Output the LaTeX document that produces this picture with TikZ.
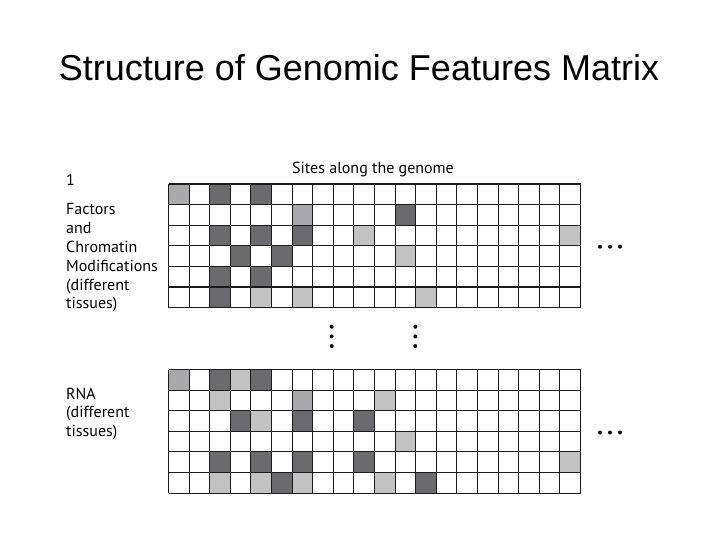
\documentclass[tikz,border=0pt]{standalone}
\usepackage{fontspec}
\setmainfont{Liberation Sans}
\newfontfamily\labelfont{PT Sans}
\usetikzlibrary{positioning}
\definecolor{CellDark}{HTML}{6B6B6E}
\definecolor{CellMid}{HTML}{A9A9AB}
\definecolor{CellLight}{HTML}{C2C2C2}
\definecolor{GridInk}{HTML}{1A1A1A}

\begin{document}
\begin{tikzpicture}[
      x=1pt,y=-1pt,
      title/.style={font=\fontsize{36}{40}\selectfont,inner sep=0pt},
      sidelabel/.style={font=\labelfont\fontsize{16}{18.8}\selectfont,align=left,anchor=west,inner sep=0pt},
      cellDark/.style={fill=CellDark},
      cellMid/.style={fill=CellMid},
      cellLight/.style={fill=CellLight},
      gridline/.style={draw=GridInk,line width=1.1pt},
      dot/.style={circle,fill=black,inner sep=0pt,minimum size=4pt}
    ]
      \useasboundingbox[fill=white] (0,0) rectangle (720,540);
      \node[title] (heading) at (359,68) {Structure of Genomic Features Matrix};
      % labels
      \node[sidelabel] (count) at (66,180) {1};
      \node[sidelabel] (factors) at (66,258) {Factors\\and\\Chromatin\\Modifications\\(different\\tissues)};
      \node[sidelabel] (rna) at (66,414) {RNA\\(different\\tissues)};
      \node[sidelabel,anchor=center] (sites) at (373,170) {Sites along the genome};
      % factors matrix
      \begin{scope}[shift={(168.5,184)},x=20.6pt,y=-20.6pt]
        \foreach \r/\c/\s in {1/1/cellMid,1/3/cellDark,1/5/cellDark,
            2/7/cellMid,2/12/cellDark,
            3/3/cellDark,3/5/cellDark,3/7/cellDark,3/10/cellLight,3/20/cellLight,
            4/4/cellDark,4/6/cellDark,4/12/cellLight,
            5/3/cellDark,5/5/cellDark,
            6/3/cellDark,6/5/cellLight,6/7/cellLight,6/13/cellLight}
          \fill[\s] (\c-1,\r-1) rectangle (\c,\r);
        \foreach \c in {0,...,20} \draw[gridline] (\c,0) -- (\c,6);
        \foreach \r in {0,...,6} \draw[gridline] (0,\r) -- (20,\r);
      \end{scope}
      % rna matrix
      \begin{scope}[shift={(168.5,369.5)},x=20.6pt,y=-20.6pt]
        \foreach \r/\c/\s in {1/1/cellMid,1/3/cellDark,1/4/cellLight,1/5/cellDark,
            2/3/cellLight,2/7/cellMid,2/11/cellLight,
            3/4/cellDark,3/5/cellLight,3/7/cellDark,3/10/cellDark,
            4/12/cellLight,
            5/3/cellDark,5/5/cellDark,5/7/cellDark,5/10/cellDark,5/20/cellLight,
            6/3/cellLight,6/5/cellLight,6/6/cellDark,6/7/cellLight,6/11/cellLight,6/13/cellDark}
          \fill[\s] (\c-1,\r-1) rectangle (\c,\r);
        \foreach \c in {0,...,20} \draw[gridline] (\c,0) -- (\c,6);
        \foreach \r in {0,...,6} \draw[gridline] (0,\r) -- (20,\r);
      \end{scope}
      % continuation dots
      \foreach \i in {0,1,2} {
        \node[dot] (rowdotA\i) at (600+10*\i,246.7) {};
        \node[dot] (rowdotB\i) at (600+10*\i,432.5) {};
        \node[dot] (coldotA\i) at (331.7,326.7+9.7*\i) {};
        \node[dot] (coldotB\i) at (415.3,326.7+9.7*\i) {};
      }
    \end{tikzpicture}
\end{document}
